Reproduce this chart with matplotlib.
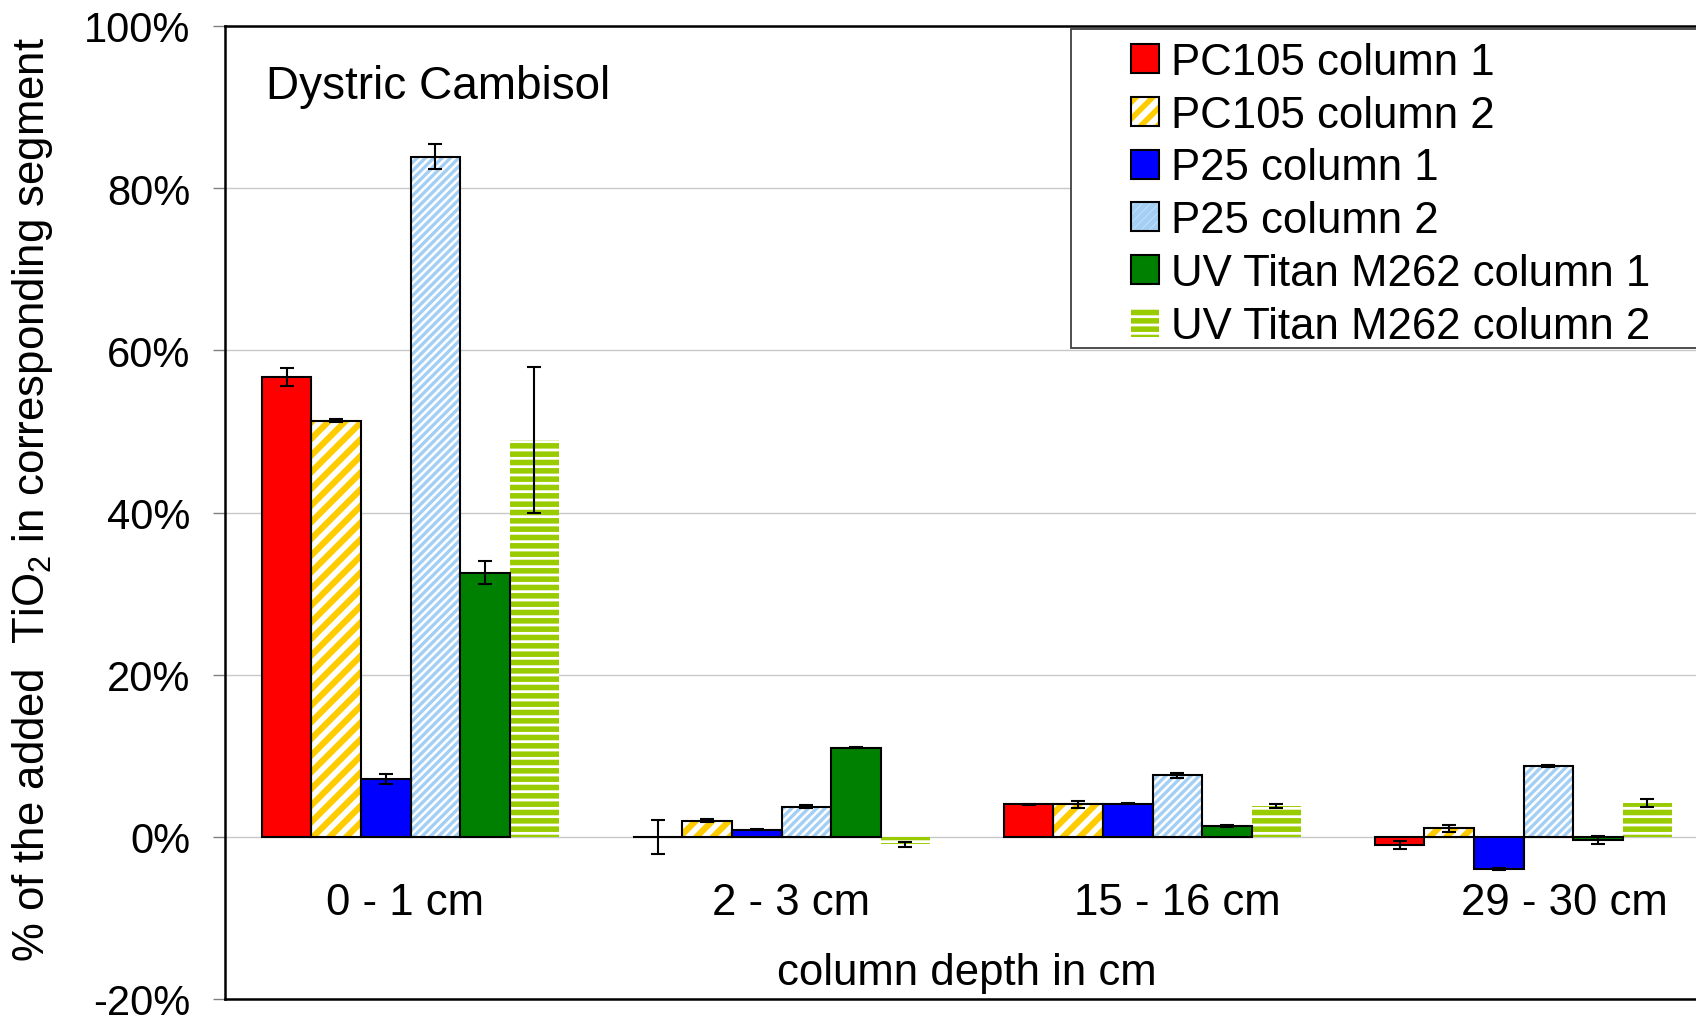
import numpy as np
import matplotlib
matplotlib.use("Agg")
import matplotlib.pyplot as plt
from matplotlib.patches import Patch, Rectangle
from matplotlib.legend_handler import HandlerTuple
from matplotlib.ticker import PercentFormatter

plt.rcParams['font.family'] = ['Liberation Sans', 'DejaVu Sans']
plt.rcParams['mathtext.fontset'] = 'custom'
plt.rcParams['mathtext.rm'] = 'Liberation Sans'
plt.rcParams['mathtext.default'] = 'regular'
plt.rcParams['axes.unicode_minus'] = False

# data (percent of added TiO2)
depths = ['0 - 1 cm', '2 - 3 cm', '15 - 16 cm', '29 - 30 cm']
series = ['PC105 column 1', 'PC105 column 2', 'P25 column 1', 'P25 column 2',
          'UV Titan M262 column 1', 'UV Titan M262 column 2']
pc105_c1 = [56.7, 0.0, 4.0, -1.05]
pc105_c1_err = [1.1, 2.1, 0.1, 0.5]
pc105_c2 = [51.3, 2.0, 4.0, 1.05]
pc105_c2_err = [0.2, 0.2, 0.4, 0.4]
p25_c1 = [7.1, 0.9, 4.1, -4.0]
p25_c1_err = [0.6, 0.1, 0.1, 0.1]
p25_c2 = [83.9, 3.7, 7.6, 8.7]
p25_c2_err = [1.5, 0.2, 0.3, 0.1]
uv_c1 = [32.6, 11.0, 1.3, -0.4]
uv_c1_err = [1.4, 0.1, 0.1, 0.45]
uv_c2 = [48.9, -0.9, 3.8, 4.15]
uv_c2_err = [9.0, 0.3, 0.3, 0.5]

values = [pc105_c1, pc105_c2, p25_c1, p25_c2, uv_c1, uv_c2]
errors = [pc105_c1_err, pc105_c2_err, p25_c1_err, p25_c2_err, uv_c1_err, uv_c2_err]

# style per series: face, hatch, hatch colour, hatch width, black edge
styles = [
    dict(face='#ff0000', hatch=None, hc=None, hw=1, edge=True),
    dict(face='white', hatch='//', hc='#ffcc00', hw=4.5, edge=True),
    dict(face='#0000ff', hatch=None, hc=None, hw=1, edge=True),
    dict(face='white', hatch='////', hc='#a4cff5', hw=2.4, edge=True),
    dict(face='#008000', hatch=None, hc=None, hw=1, edge=True),
    dict(face='white', hatch='--', hc='#99cc00', hw=4, edge=False),
]

fig = plt.figure(figsize=(16.96, 10.2), dpi=100)
ax = fig.add_axes([225 / 1696, 20 / 1020, 1484 / 1696, 973 / 1020])

x = np.arange(len(depths))
w = 0.1335
edge_lw = 1.5
handles = []
for i, (vals, errs, st) in enumerate(zip(values, errors, styles)):
    pos = x + (i - 2.5) * w
    if st['hatch']:
        plt.rcParams['hatch.linewidth'] = st['hw']
        bars = ax.bar(pos, vals, w, color=st['face'], edgecolor=st['hc'],
                      hatch=st['hatch'], linewidth=0, zorder=2)
        hp = Patch(facecolor=st['face'], edgecolor=st['hc'], hatch=st['hatch'], linewidth=0)
        for b in list(bars) + [hp]:
            if hasattr(b, 'set_hatch_linewidth'):
                b.set_hatch_linewidth(st['hw'])
        if st['edge']:
            ax.bar(pos, vals, w, color='none', edgecolor='black', linewidth=edge_lw, zorder=3)
            handles.append((hp, Patch(facecolor='none', edgecolor='black', linewidth=edge_lw)))
        else:
            handles.append(hp)
    else:
        ax.bar(pos, vals, w, color=st['face'], edgecolor='black', linewidth=edge_lw, zorder=3)
        handles.append(Patch(facecolor=st['face'], edgecolor='black', linewidth=edge_lw))
    ax.errorbar(pos, vals, yerr=errs, fmt='none', ecolor='black', elinewidth=1.5,
                capsize=5, capthick=1.5, zorder=4)

ax.set_xlim(-0.5, 3.5)
ax.set_ylim(-20, 100)
ax.set_yticks(np.arange(-20, 101, 20))
ax.yaxis.set_major_formatter(PercentFormatter(100, decimals=0))
ax.grid(axis='y', color='#c8c8c8', linewidth=1.0)
ax.set_axisbelow(True)
for s in ax.spines.values():
    s.set_linewidth(1.8)
    s.set_color('black')

ax.tick_params(axis='y', direction='out', length=9, width=1, color='#808080',
               labelsize=30, pad=16)
# category labels sit slightly right of the group centres in the original
ax.set_xticks(x * 1.042 - 0.016, depths)
ax.tick_params(axis='x', length=0, labelsize=31.5, pad=-84)

ax.set_ylabel('% of the added  TiO$_2$ in corresponding segment', fontsize=31.5, va='center')
ax.yaxis.set_label_coords(-0.130, 0.514)
ax.text(0.5, 0.027, 'column depth in cm', transform=ax.transAxes, fontsize=31.5,
        ha='center', va='center')
ax.text(0.0276, 0.9385, 'Dystric Cambisol', transform=ax.transAxes, fontsize=33,
        ha='left', va='center')

# legend box
ax.add_patch(Rectangle((0.570, 0.669), 0.6, 0.328, transform=ax.transAxes,
                       facecolor='white', edgecolor='#404040', linewidth=1.3,
                       zorder=5, clip_on=False))
leg = ax.legend(handles, series, handler_map={tuple: HandlerTuple(ndivide=1, pad=0)},
                loc='upper left', bbox_to_anchor=(1131 / 1696, 0.958),
                bbox_transform=fig.transFigure, frameon=False, fontsize=31.5,
                borderpad=0, borderaxespad=0, handlelength=0.64, handleheight=0.64,
                handletextpad=0.27, labelspacing=0.27)
leg.set_zorder(6)

fig.savefig('out.png', dpi=100)
